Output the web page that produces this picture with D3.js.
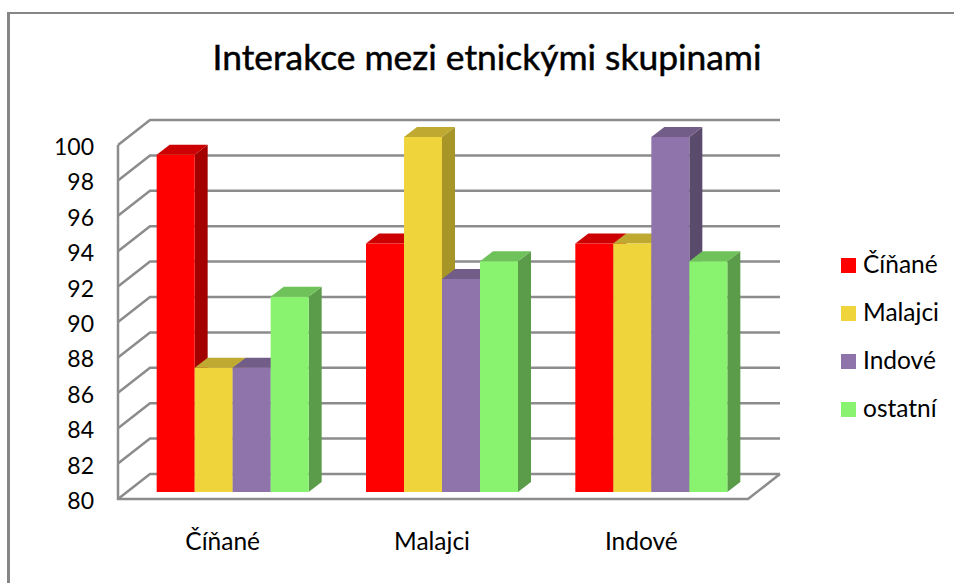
<!DOCTYPE html>
<html>
<head>
<meta charset="utf-8">
<script src="https://cdn.jsdelivr.net/npm/d3@7"></script>
<style>
  html, body { margin: 0; padding: 0; background: #fff; }
  svg { display: block; }
  text { font-family: Lato, "Open Sans", sans-serif; fill: #000; }
</style>
</head>
<body>
<div id="chart-area"></div>
<script>
var title = "Interakce mezi etnickými skupinami";
var categories = ["Číňané", "Malajci", "Indové"];
var seriesNames = ["Číňané", "Malajci", "Indové", "ostatní"];
var cinane = [99, 94, 94];
var malajci = [87, 100, 94];
var indove = [87, 92, 100];
var ostatni = [91, 93, 93];
var tickValues = [80, 82, 84, 86, 88, 90, 92, 94, 96, 98, 100];
var faceColors = ["#ff0000", "#efd43c", "#8e74aa", "#89f36f"];
var topColors = ["#cc0000", "#bfa930", "#725d88", "#6ec259"];
var sideColors = ["#a30000", "#a89528", "#5a4a6b", "#5a9c4a"];

var seriesValues = [cinane, malajci, indove, ostatni];

var width = 954;
var height = 583;
var depthX = 32, depthY = 25;
var barDepthX = 13, barDepthY = 10;

var svg = d3
  .select("#chart-area")
  .append("svg")
  .attr("width", width)
  .attr("height", height);

// slide frame, only left and top are visible
svg.append("rect").attr("x", 7).attr("y", 12).attr("width", 3).attr("height", 571).attr("fill", "#868686");
svg.append("rect").attr("x", 7).attr("y", 12).attr("width", 947).attr("height", 2).attr("fill", "#868686");

svg.append("text")
  .attr("x", 487)
  .attr("y", 70)
  .attr("text-anchor", "middle")
  .attr("font-size", "35.4px")
  .attr("stroke", "#000")
  .attr("stroke-width", 0.5)
  .text(title);

// front plane of the box
var y = d3.scaleLinear().domain([80, 100]).range([499, 145]);
// bars stand a bit inside the box
var yBar = d3.scaleLinear().domain([80, 100]).range([492, 137]);
var x0 = d3.scaleBand().domain(categories).range([118, 746]);
var x1 = d3.scaleBand().domain(seriesNames).range([0, 152]);

var grid = svg.append("g")
  .attr("fill", "none")
  .attr("stroke", "#8c8c8c")
  .attr("stroke-width", 2.5);

// back wall lines + left wall diagonals
tickValues.forEach(function (t) {
  grid.append("path")
    .attr("d", d3.line()([
      [118, y(t)],
      [118 + depthX, y(t) - depthY],
      [748 + depthX, y(t) - depthY]
    ]));
});
grid.append("path").attr("d", d3.line()([[118, y(100)], [118, y(80)], [748, y(80)], [748 + depthX, y(80) - depthY]]));

// value ticks
svg.append("g")
  .selectAll("text")
  .data(tickValues)
  .join("text")
  .attr("x", 94)
  .attr("y", function (d) { return y(d) + 10; })
  .attr("text-anchor", "end")
  .attr("font-size", "23px")
  .text(function (d) { return d; });

// bars, left to right so the later ones cover the sides of earlier ones
categories.forEach(function (c, ci) {
  var left = x0(c) + (x0.bandwidth() - 152) / 2 + 10;
  seriesNames.forEach(function (s, si) {
    var v = seriesValues[si][ci];
    var bx = left + x1(s);
    var w = x1.bandwidth();
    var top = yBar(v);
    var base = yBar(80);
    var g = svg.append("g");
    g.append("path")
      .attr("fill", sideColors[si])
      .attr("d", d3.line()([[bx + w, top], [bx + w + barDepthX, top - barDepthY], [bx + w + barDepthX, base - barDepthY], [bx + w, base]]) + "Z");
    g.append("path")
      .attr("fill", topColors[si])
      .attr("d", d3.line()([[bx, top], [bx + barDepthX, top - barDepthY], [bx + w + barDepthX, top - barDepthY], [bx + w, top]]) + "Z");
    g.append("rect")
      .attr("x", bx)
      .attr("y", top)
      .attr("width", w)
      .attr("height", base - top)
      .attr("fill", faceColors[si]);
  });
  svg.append("text")
    .attr("x", x0(c) + x0.bandwidth() / 2)
    .attr("y", 550)
    .attr("text-anchor", "middle")
    .attr("font-size", "24.5px")
    .text(c);
});

// legend
var legendY = d3.scalePoint().domain(seriesNames).range([265, 409]);
seriesNames.forEach(function (s, i) {
  svg.append("rect")
    .attr("x", 841)
    .attr("y", legendY(s) - 7)
    .attr("width", 15)
    .attr("height", 15)
    .attr("fill", faceColors[i]);
  svg.append("text")
    .attr("x", 863)
    .attr("y", legendY(s) + 8)
    .attr("font-size", "24.5px")
    .text(s);
});
</script>
</body>
</html>
